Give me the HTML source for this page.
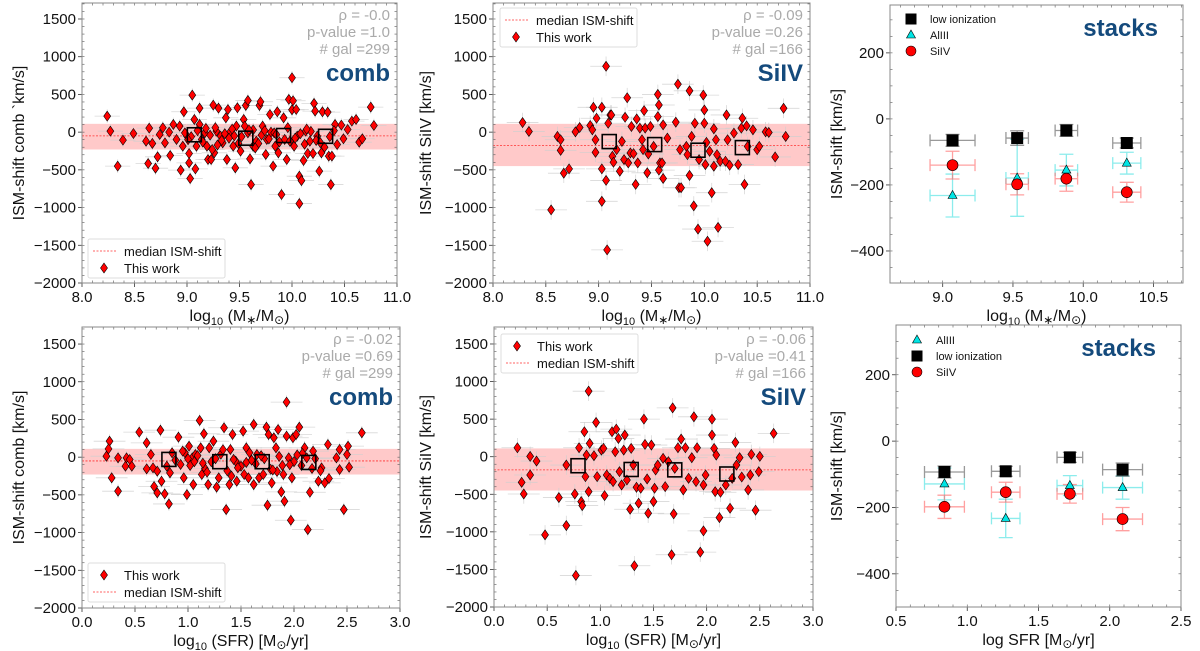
<!DOCTYPE html>
<html><head><meta charset="utf-8"><style>
html,body{margin:0;padding:0;background:#fff;}
svg{display:block;font-family:"Liberation Sans","DejaVu Sans",sans-serif;}
</style></head><body>
<svg id="fig" width="1200" height="651" viewBox="0 0 1200 651" xmlns="http://www.w3.org/2000/svg"></svg>
<script>
// ---------- DATA ----------
const combMassX=[8.24,8.27,8.39,8.34,8.49,8.61,8.64,8.67,8.63,8.70,8.72,8.74,8.77,8.79,8.83,8.84,8.87,8.90,8.93,8.94,8.96,8.97,9.00,9.02,9.02,9.03,9.05,9.07,9.08,9.09,9.12,9.12,9.14,9.17,9.19,9.20,9.23,9.25,9.26,9.28,9.30,9.32,9.34,9.37,9.38,9.39,9.41,9.44,9.46,9.47,9.48,9.51,9.54,9.56,9.58,9.60,9.58,9.61,9.63,9.66,9.69,9.70,9.72,9.75,9.76,9.79,9.80,9.82,9.84,9.86,9.87,9.90,9.92,9.93,9.95,9.97,10.00,10.00,10.01,10.02,10.04,10.05,10.07,10.07,10.09,10.11,10.13,10.15,10.17,10.20,10.21,10.22,10.24,10.26,10.28,10.29,10.34,10.35,10.37,10.38,10.41,10.43,10.47,10.49,10.53,10.57,10.61,10.64,10.67,10.75,10.78,
9.04,9.10,9.15,9.22,9.27,9.33,9.36,9.43,9.49,9.52,9.63,9.68,9.71,9.74,9.78,9.83,9.88,9.96,10.03,10.08,10.12,10.18,10.23,10.31,10.36,10.40,9.01,9.18,9.29,9.45,9.55,9.65,9.85,9.98,10.14,10.27,8.98,9.24,9.40,9.59];
const combMassY=[212,13,-106,-451,-18,-120,53,-150,-416,-478,-327,-31,58,-142,0,-310,102,-97,80,-504,-186,270,-53,-283,-407,-615,491,168,-487,-186,318,102,-97,-9,-186,-363,-363,358,-274,13,318,-53,-142,190,-363,300,0,-186,-473,80,323,-252,168,354,-9,-354,420,-695,-186,-120,354,403,80,-296,-97,234,0,-451,-186,270,-274,-827,190,-97,-363,434,721,296,416,-186,300,-53,-584,-947,-642,-376,13,-283,-120,-283,381,279,-53,-517,-274,270,265,-318,-695,-318,102,-164,93,-88,35,146,168,-133,-88,332,88,
-60,20,-130,-40,60,-110,-20,40,-150,-60,30,-150,-40,20,-90,-10,-130,60,-80,-20,-160,10,-110,-200,-60,20,-100,50,-170,-50,80,-210,-30,-120,40,-140,-10,-230,-80,30];
const combSfrX=[0.23,0.26,0.25,0.28,0.34,0.34,0.41,0.42,0.45,0.47,0.54,0.61,0.61,0.65,0.67,0.68,0.71,0.71,0.74,0.75,0.78,0.82,0.83,0.85,0.91,0.93,0.96,0.99,1.01,1.04,1.05,1.07,1.11,1.12,1.13,1.15,1.19,1.20,1.24,1.27,1.29,1.34,1.36,1.39,1.40,1.42,1.45,1.46,1.48,1.52,1.53,1.55,1.57,1.62,1.62,1.65,1.67,1.71,1.74,1.75,1.76,1.79,1.81,1.83,1.85,1.88,1.91,1.93,1.93,1.95,1.97,1.98,1.99,2.02,2.05,2.10,2.12,2.13,2.15,2.18,2.23,2.26,2.29,2.32,2.33,2.40,2.43,2.43,2.47,2.50,2.51,2.52,2.64,
0.88,0.97,1.02,1.09,1.16,1.22,1.31,1.37,1.43,1.50,1.58,1.64,1.72,1.78,1.86,1.90,2.00,2.07,2.20,2.25,0.80,0.95,1.06,1.18,1.26,1.33,1.47,1.55,1.69,1.84,1.96,2.08,2.17,1.00,1.14,1.41,1.60,1.80,1.89,2.03];
const combSfrY=[13,212,110,-274,-451,-9,-120,-9,-31,-120,332,190,-155,35,-142,-389,-473,-186,358,-319,-487,-620,-208,58,265,-97,-274,-496,146,-9,-363,35,487,124,-230,310,-363,124,212,-398,-274,390,-695,-363,102,301,-53,-319,-120,345,-230,124,-274,-363,434,35,-274,-230,398,-637,301,-341,257,124,367,-460,-584,279,730,-9,-836,-274,257,301,398,124,-9,-960,-465,80,-319,-142,-341,168,-283,-9,102,-164,-695,35,146,-133,323,
-40,60,-110,20,-150,-60,40,-180,-30,-120,60,-90,-20,-160,10,-230,-60,-110,-20,-180,-120,80,-60,-200,-20,100,-140,-70,20,-190,-100,50,-150,-20,-80,-250,-40,-170,-110,30];
const siMassX=[8.28,8.34,8.55,8.61,8.64,8.64,8.67,8.72,8.78,8.82,8.92,8.94,8.95,8.97,8.97,8.98,9.03,9.03,9.03,9.07,9.07,9.08,9.09,9.11,9.12,9.13,9.14,9.17,9.20,9.22,9.24,9.25,9.27,9.28,9.30,9.31,9.33,9.35,9.36,9.37,9.39,9.41,9.42,9.43,9.44,9.46,9.47,9.49,9.52,9.56,9.56,9.57,9.57,9.58,9.60,9.61,9.61,9.65,9.73,9.75,9.76,9.78,9.77,9.83,9.84,9.86,9.86,9.88,9.90,9.91,9.94,9.95,9.99,10.00,10.00,10.01,10.02,10.03,10.05,10.07,10.09,10.09,10.11,10.12,10.13,10.15,10.20,10.21,10.22,10.24,10.28,10.32,10.35,10.36,10.38,10.40,10.41,10.46,10.50,10.52,10.58,10.61,10.67,10.75,10.77];
const siMassY=[127,9,-1031,-57,-101,-241,-544,-487,4,61,88,31,329,-101,-268,184,-917,-487,329,873,-640,-1561,118,228,228,-320,-399,-232,-518,-123,-364,197,456,-408,-276,75,-285,-693,175,-408,53,-101,-232,285,53,-539,-289,75,-189,206,500,-504,360,-408,-408,-614,96,-79,132,636,-737,-737,-232,-189,-298,548,-574,-57,-978,118,-1285,-364,491,118,294,-430,-136,-1447,-254,-803,-452,44,-101,-298,-1263,-386,-386,228,-101,-439,-13,-430,53,184,-693,83,-189,31,-232,-189,4,-4,-329,316,-57];
const siSfrX=[0.22,0.26,0.28,0.34,0.34,0.40,0.48,0.61,0.68,0.68,0.76,0.77,0.80,0.82,0.83,0.85,0.86,0.87,0.89,0.89,0.90,0.94,0.96,0.97,1.01,1.03,1.04,1.06,1.09,1.11,1.12,1.14,1.15,1.17,1.18,1.20,1.22,1.23,1.25,1.28,1.29,1.31,1.32,1.34,1.36,1.38,1.41,1.42,1.44,1.45,1.48,1.50,1.51,1.52,1.54,1.59,1.61,1.64,1.68,1.67,1.69,1.70,1.73,1.76,1.78,1.80,1.83,1.86,1.88,1.90,1.91,1.94,1.97,1.97,1.99,2.05,2.05,2.07,2.08,2.09,2.12,2.13,2.18,2.22,2.24,2.27,2.28,2.31,2.33,2.39,2.41,2.42,2.46,2.49,2.50,2.63];
const siSfrY=[119,-341,-496,4,-243,-58,-1040,-544,-111,-916,-496,-1580,119,-597,-650,332,-265,22,872,-465,177,13,456,-265,88,111,-518,-243,-288,332,-332,66,367,243,-199,-376,88,288,-310,-699,111,-111,-1451,-407,-619,-420,500,164,-296,-752,155,-597,-420,-177,-111,-22,-398,-66,650,-1305,-761,-155,119,235,-442,119,-288,-13,531,-332,119,-1270,-987,-376,-243,500,288,111,-465,22,-810,-473,-376,-686,-288,190,-111,-13,-270,-442,-243,31,-712,-199,4,310];
// binned medians (black squares)
const combMassBinX=[9.07,9.56,9.92,10.32], combMassBinY=[-35,-80,-45,-55];
const combSfrBinX=[0.82,1.30,1.70,2.14], combSfrBinY=[-30,-60,-60,-70];
const siMassBinX=[9.10,9.53,9.94,10.36], siMassBinY=[-125,-165,-240,-205];
const siSfrBinX=[0.79,1.29,1.70,2.19], siSfrBinY=[-120,-170,-175,-230];
// stacks vs mass
const stMassX=[9.07,9.53,9.88,10.31];
const stMassXerr=[0.16,0.08,0.08,0.10];
const stMassLow=[-65,-58,-35,-73], stMassLowErr=[18,22,18,15];
const stMassAl=[-232,-179,-155,-134], stMassAlLo=[65,116,48,33], stMassAlHi=[65,117,48,33];
const stMassSi=[-140,-198,-181,-222], stMassSiErr=[42,32,38,30];
// stacks vs SFR
const stSfrX=[0.84,1.27,1.72,2.09];
const stSfrXerr=[0.14,0.10,0.09,0.14];
const stSfrLow=[-93,-91,-49,-86], stSfrLowErr=[18,15,15,20];
const stSfrAl=[-129,-233,-134,-140], stSfrAlErr=[48,58,30,35];
const stSfrSi=[-198,-154,-159,-235], stSfrSiErr=[35,30,28,35];
// tick labels
const massTicks=[8.0,8.5,9.0,9.5,10.0,10.5,11.0];
const sfrTicks=[0.0,0.5,1.0,1.5,2.0,2.5,3.0];
const scatYTicks=[-2000,-1500,-1000,-500,0,500,1000,1500];
const stMassTicks=[9.0,9.5,10.0,10.5];
const stSfrTicks=[0.5,1.0,1.5,2.0,2.5];
const stYTicks=[-400,-200,0,200];

// ---------- DRAWING ----------
const NS="http://www.w3.org/2000/svg";
const fig=document.getElementById('fig');
function mk(tag,attrs,parent){const e=document.createElementNS(NS,tag);for(const k in attrs)e.setAttribute(k,attrs[k]);(parent||fig).appendChild(e);return e;}
function fmtX(v){return (v<0?'\u2212':'')+Math.abs(v).toFixed(1);}
function fmtY(v){return (v<0?'\u2212':'')+String(Math.abs(Math.round(v)));}

function panel(p){
  const g=mk('g',{});
  
  
  const sx=v=>p.l+(v-p.x0)/(p.x1-p.x0)*(p.r-p.l);
  const sy=v=>p.b-(v-p.y0)/(p.y1-p.y0)*(p.b-p.t);
  p.sx=sx;p.sy=sy;p.g=g;
  const clip='c'+p.name;
  const cp=mk('clipPath',{id:clip},g);mk('rect',{x:p.l,y:p.t,width:p.r-p.l,height:p.b-p.t},cp);
  p.inner=mk('g',{'clip-path':'url(#'+clip+')'},g);
  for(let v=Math.ceil(p.x0/p.xm)*p.xm;v<=p.x1+1e-9;v+=p.xm){const X=sx(v);mk('line',{x1:X,x2:X,y1:p.b,y2:p.b-2.5,stroke:'#555','stroke-width':0.6},g);mk('line',{x1:X,x2:X,y1:p.t,y2:p.t+2.5,stroke:'#555','stroke-width':0.6},g);}
  for(let v=Math.ceil(p.y0/p.ym)*p.ym;v<=p.y1+1e-9;v+=p.ym){const Y=sy(v);mk('line',{x1:p.l,x2:p.l+2.5,y1:Y,y2:Y,stroke:'#555','stroke-width':0.6},g);mk('line',{x1:p.r,x2:p.r-2.5,y1:Y,y2:Y,stroke:'#555','stroke-width':0.6},g);}
  p.xt.forEach(v=>{const X=sx(v);mk('line',{x1:X,x2:X,y1:p.b,y2:p.b+4,stroke:'#333','stroke-width':0.8},g);
    const t=mk('text',{x:X,y:p.b+19,'text-anchor':'middle','font-size':15,fill:'#111'},g);t.textContent=fmtX(v);
    });
  p.yt.forEach(v=>{const Y=sy(v);mk('line',{x1:p.l-4,x2:p.l,y1:Y,y2:Y,stroke:'#333','stroke-width':0.8},g);
    const t=mk('text',{x:p.l-6,y:Y+5,'text-anchor':'end','font-size':15,fill:'#111'},g);t.textContent=fmtY(v);
    });
  const fr=mk('rect',{x:p.l,y:p.t,width:p.r-p.l,height:p.b-p.t,fill:'none',stroke:'#888','stroke-width':1},g);
  
  const yl=mk('text',{x:0,y:0,transform:`translate(${p.yx},${(p.t+p.b)/2}) rotate(-90)`,'text-anchor':'middle','font-size':16,fill:'#111'},g);
  yl.textContent=p.ylab;
  const xl=mk('text',{x:(p.l+p.r)/2,y:p.b+38,'text-anchor':'middle','font-size':16,fill:'#111'},g);
  xl.innerHTML=p.xlab;
  return p;
}
function diamond(par,X,Y){return mk('path',{d:`M${X} ${Y-5}L${X+3.5} ${Y}L${X} ${Y+5}L${X-3.5} ${Y}Z`,fill:'#ff0000',stroke:'#000','stroke-width':0.6},par);}

function scatter(p,xs,ys,bx,by,band,med,xe,ye,combLabel,stats){
  const I=p.inner;
  const bd=mk('rect',{x:p.l,y:p.sy(band[1]),width:p.r-p.l,height:p.sy(band[0])-p.sy(band[1]),fill:'#ffbcbc',opacity:0.8},I);
  
  xs.forEach((x,i)=>{const X=p.sx(x),Y=p.sy(ys[i]);
    const e=mk('path',{d:`M${p.sx(x-xe)} ${Y}H${p.sx(x+xe)}M${X} ${p.sy(ys[i]-ye)}V${p.sy(ys[i]+ye)}`,stroke:'#cfcfcf','stroke-width':0.8,opacity:0.8},I);
    });
  const ml=mk('line',{x1:p.l,x2:p.r,y1:p.sy(med),y2:p.sy(med),stroke:'#ff3030','stroke-width':0.8,'stroke-dasharray':'2,1.5'},I);
  
  xs.forEach((x,i)=>{const d=diamond(I,p.sx(x),p.sy(ys[i]));
    });
  bx.forEach((x,i)=>{const X=p.sx(x),Y=p.sy(by[i]);
    const s=mk('rect',{x:X-7,y:Y-7,width:14,height:14,fill:'none',stroke:'#000','stroke-width':1.6},I);
    });
  stats.forEach((s,i)=>{const t=mk('text',{x:p.r-7,y:p.t+17+i*17,'text-anchor':'end','font-size':15,fill:'#aaa'},p.g);t.textContent=s;
    });
  const c=mk('text',{x:p.r-7,y:p.t+78,'text-anchor':'end','font-size':24,'font-weight':'bold',fill:'#144a7c'},p.g);c.textContent=combLabel;
  
}
function legendScatter(p,x,y,order){
  const g=mk('g',{},p.g);
  
  mk('rect',{x:x,y:y,width:137,height:39,fill:'#fff',stroke:'#ddd',rx:2},g);
  order.forEach((k,i)=>{const Y=y+12+i*17;
    if(k==='m'){mk('line',{x1:x+5,x2:x+28,y1:Y,y2:Y,stroke:'#ff3030','stroke-width':0.8,'stroke-dasharray':'2,1.5'},g);}
    else{diamond(g,x+16,Y);}
    const t=mk('text',{x:x+36,y:Y+5,'font-size':13,fill:'#111'},g);t.textContent=k==='m'?'median ISM-shift':'This work';
    });
}
function stacks(p,X,xe,low,lowE,al,alLo,alHi,si,siE,order,ly){
  const I=p.inner;
  function eb(x,y,dx,lo,hi,col){const px=p.sx(x),py=p.sy(y);
    const e=mk('path',{d:`M${p.sx(x-dx)} ${py}H${p.sx(x+dx)}M${px} ${p.sy(y-lo)}V${p.sy(y+hi)}M${px-7} ${p.sy(y-lo)}h14M${px-7} ${p.sy(y+hi)}h14M${p.sx(x-dx)} ${py-6}v12M${p.sx(x+dx)} ${py-6}v12`,stroke:col,'stroke-width':1.3,fill:'none',opacity:0.6},I);
    }
  X.forEach((x,i)=>{eb(x,al[i],xe[i],alLo[i],alHi[i],'#40e0e0');eb(x,si[i],xe[i],siE[i],siE[i],'#ff6060');eb(x,low[i],xe[i],lowE[i],lowE[i],'#555');});
  X.forEach((x,i)=>{
    const a=mk('path',{d:`M${p.sx(x)} ${p.sy(al[i])-5}l4.5 8h-9Z`,fill:'#00e5e5',stroke:'#000','stroke-width':0.6},I);
    
    const c=mk('circle',{cx:p.sx(x),cy:p.sy(si[i]),r:5.5,fill:'#ff0000',stroke:'#000','stroke-width':0.6},I);
    
    const s=mk('rect',{x:p.sx(x)-6,y:p.sy(low[i])-6,width:12,height:12,fill:'#000'},I);
    });
  const lg=mk('g',{},p.g);
  order.forEach((k,i)=>{const Y=ly+i*16,mx=p.l+21;
    if(k==='low')mk('rect',{x:mx-5.5,y:Y-5.5,width:11,height:11,fill:'#000'},lg);
    else if(k==='al')mk('path',{d:`M${mx} ${Y-5}l4.5 8h-9Z`,fill:'#00e5e5',stroke:'#000','stroke-width':0.6},lg);
    else mk('circle',{cx:mx,cy:Y,r:5,fill:'#ff0000',stroke:'#000','stroke-width':0.6},lg);
    const t=mk('text',{x:p.l+40,y:Y+4,'font-size':11,fill:'#111'},lg);t.textContent=k==='low'?'low ionization':(k==='al'?'AlIII':'SiIV');
    });
  const c=mk('text',{x:p.r-25,y:p.t+31,'text-anchor':'end','font-size':24,'font-weight':'bold',fill:'#144a7c'},p.g);c.textContent='stacks';
  
}
const massLab='log<tspan font-size="11" dy="4">10</tspan><tspan dy="-4"> (M</tspan><tspan font-size="12" dy="3">∗</tspan><tspan dy="-3">/M</tspan><tspan font-size="12" dy="3">⊙</tspan><tspan dy="-3">)</tspan>';
const sfrLab='log<tspan font-size="11" dy="4">10</tspan><tspan dy="-4"> (SFR) [M</tspan><tspan font-size="12" dy="3">⊙</tspan><tspan dy="-3">/yr]</tspan>';
const sfrLab2='log  SFR [M<tspan font-size="12" dy="3">⊙</tspan><tspan dy="-3">/yr]</tspan>';

const P1=panel({name:'panel-comb-mass',l:82,r:397,t:3,b:283,x0:8,x1:11,y0:-2000,y1:1712,xm:0.1,ym:100,xt:massTicks,yt:scatYTicks,yx:24,ylab:'ISM-shift comb `km/s]',xlab:massLab});
scatter(P1,combMassX,combMassY,combMassBinX,combMassBinY,[-230,110],-50,0.12,90,'comb',['ρ = -0.0','p-value =1.0','# gal =299']);
legendScatter(P1,88,239,['m','d']);
const P2=panel({name:'panel-siiv-mass',l:493,r:810,t:3,b:283,x0:8,x1:11,y0:-2000,y1:1712,xm:0.1,ym:100,xt:massTicks,yt:scatYTicks,yx:431,ylab:'ISM-shift SiIV [km/s]',xlab:massLab});
scatter(P2,siMassX,siMassY,siMassBinX,siMassBinY,[-450,110],-175,0.15,130,'SiIV',['ρ = -0.09','p-value =0.26','# gal =166']);
legendScatter(P2,500,8,['m','d']);
const P4=panel({name:'panel-comb-sfr',l:82,r:400,t:327,b:608,x0:0,x1:3,y0:-2000,y1:1726,xm:0.1,ym:100,xt:sfrTicks,yt:scatYTicks,yx:24,ylab:'ISM-shift comb [km/s]',xlab:sfrLab});
scatter(P4,combSfrX,combSfrY,combSfrBinX,combSfrBinY,[-230,110],-50,0.15,90,'comb',['ρ = -0.02','p-value =0.69','# gal =299']);
legendScatter(P4,88,563,['d','m']);
const P5=panel({name:'panel-siiv-sfr',l:494,r:813,t:327,b:607,x0:0,x1:3,y0:-2000,y1:1726,xm:0.1,ym:100,xt:sfrTicks,yt:scatYTicks,yx:431,ylab:'ISM-shift SiIV [km/s]',xlab:sfrLab});
scatter(P5,siSfrX,siSfrY,siSfrBinX,siSfrBinY,[-450,110],-175,0.15,130,'SiIV',['ρ = -0.06','p-value =0.41','# gal =166']);
legendScatter(P5,501,334,['d','m']);
const P3=panel({name:'panel-stacks-mass',l:890,r:1183,t:5,b:283,x0:8.625,x1:10.71,y0:-497,y1:345,xm:0.1,ym:50,xt:stMassTicks,yt:stYTicks,yx:842,ylab:'ISM-shift [km/s]',xlab:massLab});
stacks(P3,stMassX,stMassXerr,stMassLow,stMassLowErr,stMassAl,stMassAlLo,stMassAlHi,stMassSi,stMassSiErr,['low','al','si'],19);
const P6=panel({name:'panel-stacks-sfr',l:896,r:1181,t:325,b:607,x0:0.5,x1:2.5,y0:-500,y1:350,xm:0.1,ym:50,xt:stSfrTicks,yt:stYTicks,yx:842,ylab:'ISM-shift [km/s]',xlab:sfrLab2});
stacks(P6,stSfrX,stSfrXerr,stSfrLow,stSfrLowErr,stSfrAl,stSfrAlErr,stSfrAlErr,stSfrSi,stSfrSiErr,['al','low','si'],340);
</script>
</body></html>
